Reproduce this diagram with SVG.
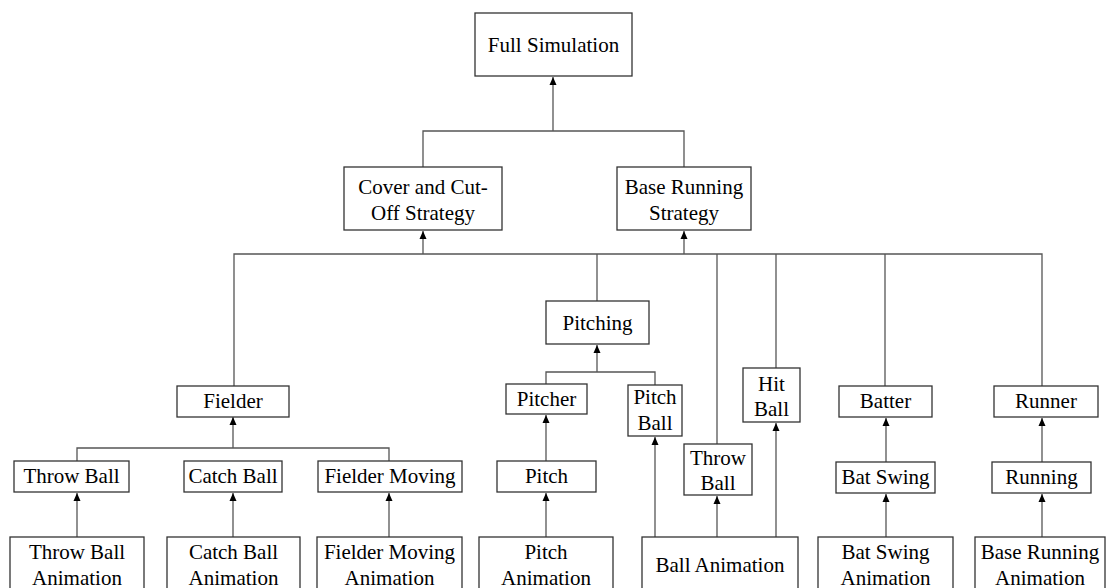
<svg xmlns="http://www.w3.org/2000/svg" width="1106" height="588" viewBox="0 0 1106 588">
<style>
rect{fill:#fff;stroke:#333;stroke-width:1.3}
.c{fill:none;stroke:#555;stroke-width:1.3}
</style>
<defs>
<marker id="ah" markerUnits="userSpaceOnUse" markerWidth="9" markerHeight="9" refX="8" refY="4.5" orient="auto">
<path d="M0,1 L8,4.5 L0,8 z" fill="#000"/>
</marker>
</defs>
<rect x="0" y="0" width="1106" height="588" style="fill:#fff;stroke:none"/>
<g id="connectors">
<path class="c" d="M553,131 V77" marker-end="url(#ah)"/>
<path class="c" d="M423,167 V131 H684 V167"/>
<path class="c" d="M234,386 V254 H1042 V386"/>
<path class="c" d="M423,254 V231" marker-end="url(#ah)"/>
<path class="c" d="M684,254 V231" marker-end="url(#ah)"/>
<path class="c" d="M597,254 V301"/>
<path class="c" d="M717,254 V444"/>
<path class="c" d="M776,254 V368"/>
<path class="c" d="M885,254 V386"/>
<path class="c" d="M233,448 V417" marker-end="url(#ah)"/>
<path class="c" d="M77,461 V448 H389 V461"/>
<path class="c" d="M77,537 V493" marker-end="url(#ah)"/>
<path class="c" d="M233,537 V493" marker-end="url(#ah)"/>
<path class="c" d="M389,537 V493" marker-end="url(#ah)"/>
<path class="c" d="M597,372 V345" marker-end="url(#ah)"/>
<path class="c" d="M546,384 V372 H655 V385"/>
<path class="c" d="M546,461 V415" marker-end="url(#ah)"/>
<path class="c" d="M546,537 V493" marker-end="url(#ah)"/>
<path class="c" d="M655,537 V437" marker-end="url(#ah)"/>
<path class="c" d="M717,537 V496" marker-end="url(#ah)"/>
<path class="c" d="M776,537 V423" marker-end="url(#ah)"/>
<path class="c" d="M886,462 V418" marker-end="url(#ah)"/>
<path class="c" d="M886,537 V494" marker-end="url(#ah)"/>
<path class="c" d="M1042,462 V418" marker-end="url(#ah)"/>
<path class="c" d="M1042,537 V494" marker-end="url(#ah)"/>
</g>
<g font-family="Liberation Serif" font-size="21" text-anchor="middle" fill="#000">
<g id="full-simulation"><rect x="475" y="13" width="157" height="63"/><text x="553.5" y="52">Full Simulation</text></g>
<g id="cover-cutoff"><rect x="344" y="167" width="158" height="63"/><text x="423" y="194">Cover and Cut-</text><text x="423" y="220">Off Strategy</text></g>
<g id="base-running-strategy"><rect x="617" y="167" width="134" height="63"/><text x="684" y="194">Base Running</text><text x="684" y="220">Strategy</text></g>
<g id="pitching"><rect x="546" y="301" width="103" height="43"/><text x="597.5" y="330">Pitching</text></g>
<g id="fielder"><rect x="177" y="386" width="112" height="31"/><text x="233" y="408">Fielder</text></g>
<g id="pitcher"><rect x="506" y="384" width="81" height="30"/><text x="546.5" y="406">Pitcher</text></g>
<g id="pitch-ball"><rect x="628" y="385" width="54" height="51"/><text x="655" y="404">Pitch</text><text x="655" y="430">Ball</text></g>
<g id="hit-ball"><rect x="743" y="368" width="57" height="54"/><text x="771.5" y="391">Hit</text><text x="771.5" y="416">Ball</text></g>
<g id="batter"><rect x="839" y="386" width="93" height="31"/><text x="885.5" y="408">Batter</text></g>
<g id="runner"><rect x="994" y="386" width="104" height="31"/><text x="1046" y="408">Runner</text></g>
<g id="throw-ball-small"><rect x="684" y="444" width="68" height="51"/><text x="718" y="465">Throw</text><text x="718" y="490">Ball</text></g>
<g id="throw-ball"><rect x="14" y="461" width="115" height="31"/><text x="71.5" y="483">Throw Ball</text></g>
<g id="catch-ball"><rect x="184" y="461" width="98" height="31"/><text x="233" y="483">Catch Ball</text></g>
<g id="fielder-moving"><rect x="318" y="461" width="144" height="31"/><text x="390" y="483">Fielder Moving</text></g>
<g id="pitch"><rect x="497" y="461" width="99" height="31"/><text x="546.5" y="483">Pitch</text></g>
<g id="bat-swing"><rect x="836" y="462" width="99" height="31"/><text x="885.5" y="484">Bat Swing</text></g>
<g id="running"><rect x="992" y="462" width="99" height="31"/><text x="1041.5" y="484">Running</text></g>
<g id="throw-ball-animation"><rect x="10" y="537" width="134" height="60"/><text x="77" y="559">Throw Ball</text><text x="77" y="585">Animation</text></g>
<g id="catch-ball-animation"><rect x="167" y="537" width="133" height="60"/><text x="233.5" y="559">Catch Ball</text><text x="233.5" y="585">Animation</text></g>
<g id="fielder-moving-animation"><rect x="317" y="537" width="145" height="60"/><text x="389.5" y="559">Fielder Moving</text><text x="389.5" y="585">Animation</text></g>
<g id="pitch-animation"><rect x="479" y="537" width="134" height="60"/><text x="546" y="559">Pitch</text><text x="546" y="585">Animation</text></g>
<g id="ball-animation"><rect x="642" y="537" width="156" height="60"/><text x="720" y="572">Ball Animation</text></g>
<g id="bat-swing-animation"><rect x="818" y="537" width="135" height="60"/><text x="885.5" y="559">Bat Swing</text><text x="885.5" y="585">Animation</text></g>
<g id="base-running-animation"><rect x="975" y="537" width="130" height="60"/><text x="1040" y="559">Base Running</text><text x="1040" y="585">Animation</text></g>
</g>
</svg>
